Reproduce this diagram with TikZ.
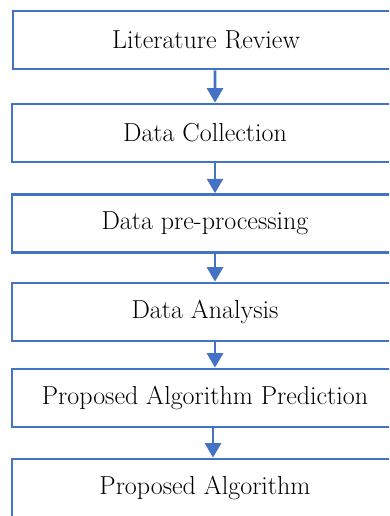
\documentclass[tikz,border=0pt]{standalone}
\usepackage{xcolor}
\usetikzlibrary{arrows.meta,positioning}
\definecolor{stepblue}{RGB}{68,114,196}

\begin{document}
\begin{tikzpicture}[>={Triangle[width=0.4cm,length=0.36cm]},
  stepbox/.style={draw=stepblue,line width=2pt,minimum width=9.65cm,minimum height=1.45cm,
    font=\fontsize{18.5}{22}\selectfont},
  flow/.style={->,draw=stepblue,fill=stepblue,line width=1.9pt}]
\useasboundingbox(0,0)rectangle(9.725,-12.9);
\clip(0,0)rectangle(9.725,-12.9);
% the six steps, top to bottom
\node[stepbox](lit)at(5.15,-1.0){Literature Review};
\node[stepbox](coll)at(5.125,-3.325){Data Collection};
\node[stepbox](prep)at(5.125,-5.59){Data pre-processing};
\node[stepbox](anal)at(5.125,-7.8){Data Analysis};
\node[stepbox](pred)at(5.125,-9.95){Proposed Algorithm Prediction};
\node[stepbox](algo)at(5.125,-12.2){Proposed Algorithm};
% arrows sit a little right of the centre
\draw[flow]([xshift=0.225cm]lit.south)--([xshift=0.25cm]coll.north);
\draw[flow]([xshift=0.25cm]coll.south)--([xshift=0.25cm]prep.north);
\draw[flow]([xshift=0.25cm]prep.south)--([xshift=0.25cm]anal.north);
\draw[flow]([xshift=0.25cm]anal.south)--([xshift=0.25cm]pred.north);
\draw[flow]([xshift=0.2cm]pred.south)--([xshift=0.2cm]algo.north);
\end{tikzpicture}
\end{document}
